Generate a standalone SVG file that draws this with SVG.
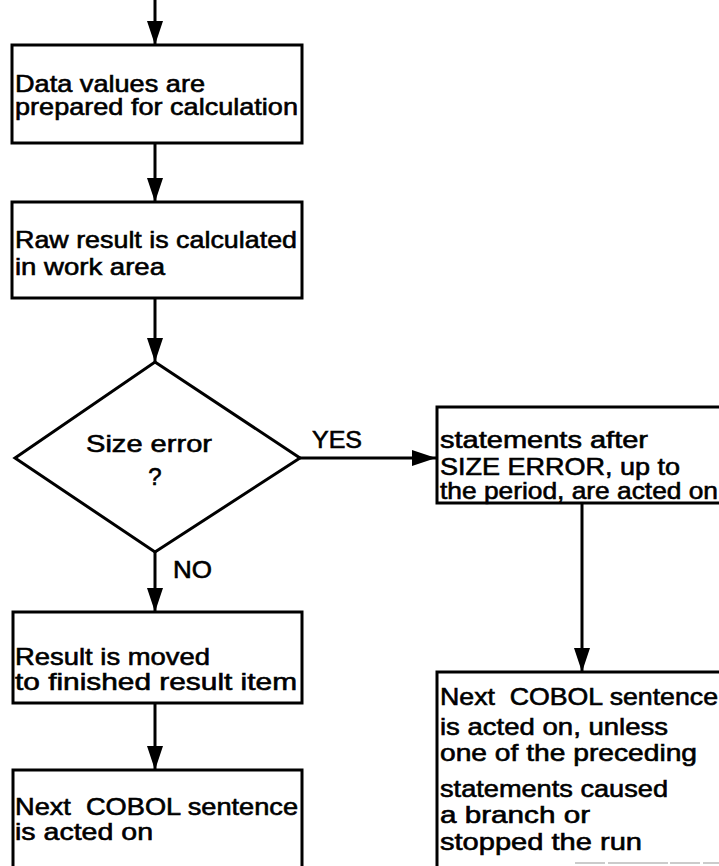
<svg xmlns="http://www.w3.org/2000/svg" width="719" height="866" viewBox="0 0 719 866">
  <style>
    .box { fill: none; stroke: #000; stroke-width: 3; }
    .ln { fill: none; stroke: #000; stroke-width: 3; }
    text { font-family: "Liberation Sans", Arial, sans-serif; font-size: 24px; fill: #000; stroke: #000; stroke-width: 0.6; }
  </style>
  <defs>
    <marker id="arrow" viewBox="0 0 24 16" refX="24" refY="8" markerWidth="24" markerHeight="16" markerUnits="userSpaceOnUse" orient="auto">
      <path d="M0,0 L24,8 L0,16 Z" fill="#000"/>
    </marker>
  </defs>
  <rect width="719" height="866" fill="#fff"/>

  <!-- connectors -->
  <g id="connectors">
    <line class="ln" x1="155" y1="0" x2="155" y2="45" marker-end="url(#arrow)"/>
    <line class="ln" x1="155" y1="143" x2="155" y2="202" marker-end="url(#arrow)"/>
    <line class="ln" x1="155" y1="298" x2="155" y2="362" marker-end="url(#arrow)"/>
    <line class="ln" x1="300" y1="458" x2="436" y2="458" marker-end="url(#arrow)"/>
    <line class="ln" x1="155" y1="552" x2="155" y2="612" marker-end="url(#arrow)"/>
    <line class="ln" x1="155" y1="703" x2="155" y2="770" marker-end="url(#arrow)"/>
    <line class="ln" x1="582" y1="503" x2="582" y2="672" marker-end="url(#arrow)"/>
    <text x="312" y="448" textLength="50" lengthAdjust="spacingAndGlyphs">YES</text>
    <text x="173" y="578" textLength="39" lengthAdjust="spacingAndGlyphs">NO</text>
  </g>

  <g id="prepare">
    <rect class="box" x="12" y="45" width="290" height="98"/>
    <text x="15" y="92" textLength="190" lengthAdjust="spacingAndGlyphs">Data values are</text>
    <text x="15" y="115" textLength="283" lengthAdjust="spacingAndGlyphs">prepared for calculation</text>
  </g>

  <g id="calculate">
    <rect class="box" x="12" y="202" width="290" height="96"/>
    <text x="15" y="248" textLength="282" lengthAdjust="spacingAndGlyphs">Raw result is calculated</text>
    <text x="15" y="275" textLength="150" lengthAdjust="spacingAndGlyphs">in work area</text>
  </g>

  <g id="decision">
    <polygon class="box" points="155,362 300,458 155,552 15,458"/>
    <text x="86" y="452" textLength="126" lengthAdjust="spacingAndGlyphs">Size error</text>
    <text x="155" y="485" text-anchor="middle">?</text>
  </g>

  <g id="error-statements">
    <path class="box" d="M721,407 H437 V503 H721"/>
    <text x="440" y="448" textLength="208" lengthAdjust="spacingAndGlyphs">statements after</text>
    <text x="440" y="475" textLength="240" lengthAdjust="spacingAndGlyphs">SIZE ERROR, up to</text>
    <text x="440" y="499" textLength="278" lengthAdjust="spacingAndGlyphs">the period, are acted on</text>
  </g>

  <g id="move-result">
    <rect class="box" x="13" y="612" width="289" height="91"/>
    <text x="15" y="665" textLength="195" lengthAdjust="spacingAndGlyphs">Result is moved</text>
    <text x="15" y="690" textLength="282" lengthAdjust="spacingAndGlyphs">to finished result item</text>
  </g>

  <g id="next-sentence">
    <path class="box" d="M13,870 V770 H302 V870"/>
    <text x="15" y="815" textLength="283" lengthAdjust="spacingAndGlyphs" xml:space="preserve">Next  COBOL sentence</text>
    <text x="15" y="840" textLength="138" lengthAdjust="spacingAndGlyphs">is acted on</text>
  </g>

  <g id="next-sentence-unless">
    <path class="box" d="M437,870 V672 H721"/>
    <line x1="575" y1="863" x2="719" y2="863" stroke="#bbb" stroke-width="1.5" stroke-dasharray="30 3 60 2"/>
    <text x="440" y="705" textLength="278" lengthAdjust="spacingAndGlyphs" xml:space="preserve">Next  COBOL sentence</text>
    <text x="440" y="735" textLength="228" lengthAdjust="spacingAndGlyphs">is acted on, unless</text>
    <text x="440" y="761" textLength="257" lengthAdjust="spacingAndGlyphs">one of the preceding</text>
    <text x="440" y="797" textLength="228" lengthAdjust="spacingAndGlyphs">statements caused</text>
    <text x="440" y="823" textLength="150" lengthAdjust="spacingAndGlyphs">a branch or</text>
    <text x="440" y="850" textLength="202" lengthAdjust="spacingAndGlyphs">stopped the run</text>
  </g>
</svg>
